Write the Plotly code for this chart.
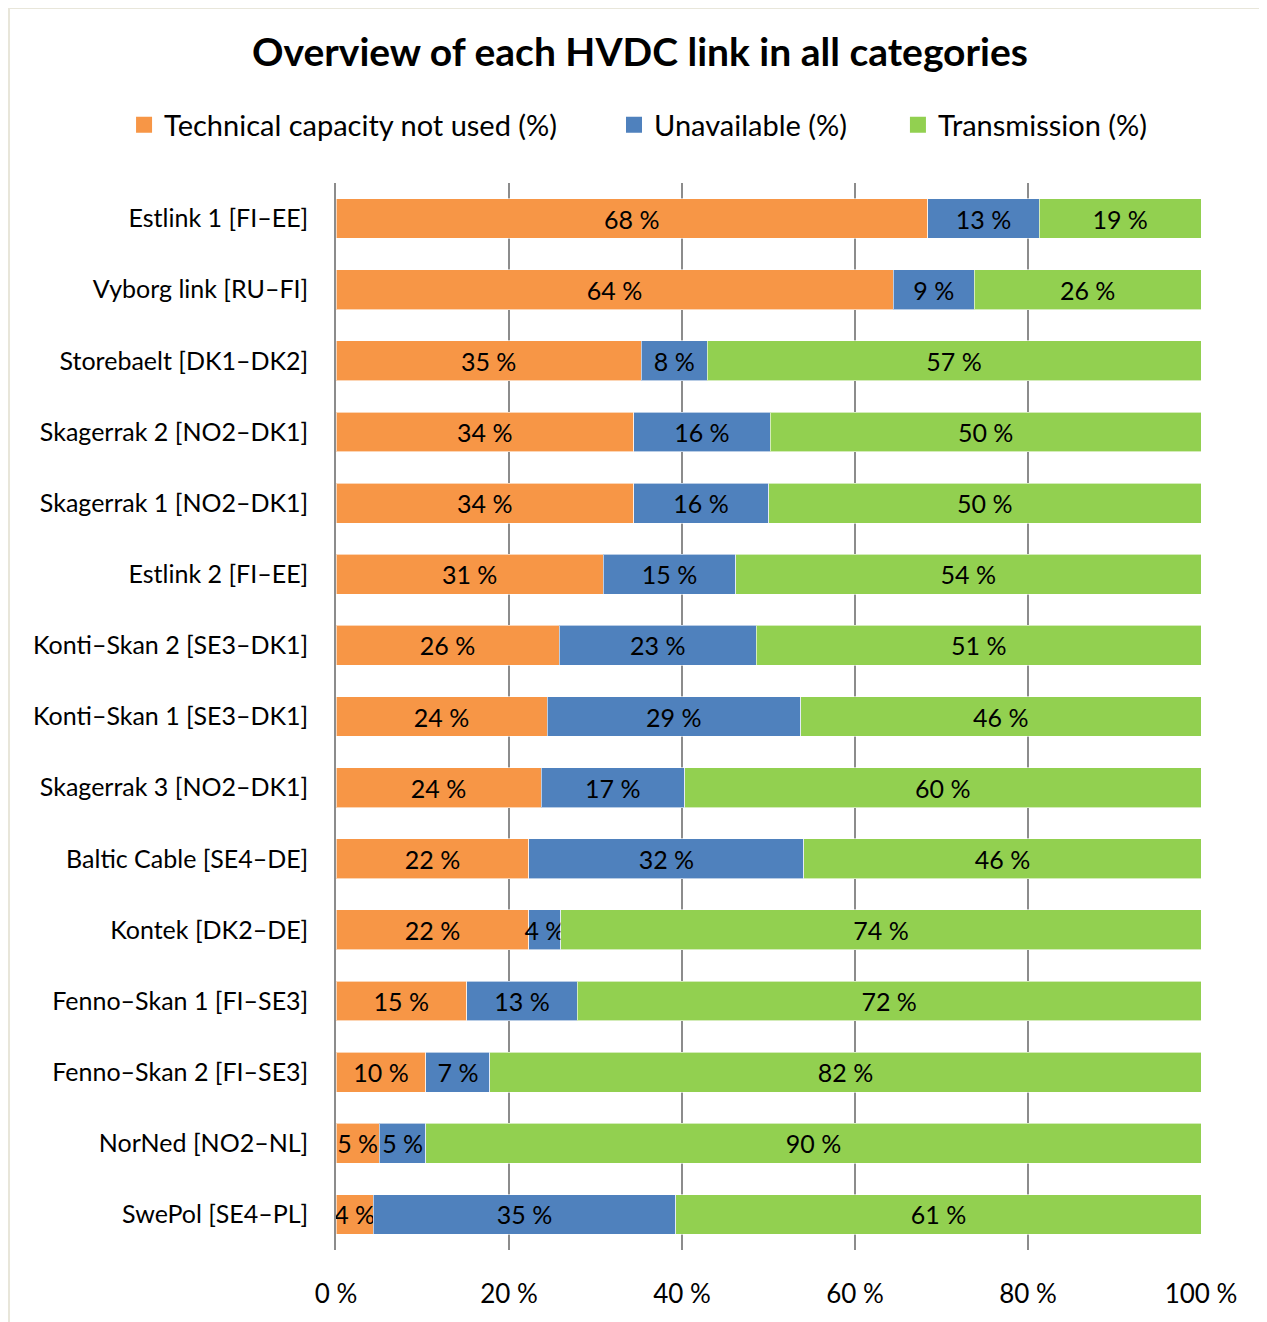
import plotly.graph_objects as go

links = ["Estlink 1 [FI–EE]", "Vyborg link [RU–FI]", "Storebaelt [DK1–DK2]",
         "Skagerrak 2 [NO2–DK1]", "Skagerrak 1 [NO2–DK1]", "Estlink 2 [FI–EE]",
         "Konti–Skan 2 [SE3–DK1]", "Konti–Skan 1 [SE3–DK1]", "Skagerrak 3 [NO2–DK1]",
         "Baltic Cable [SE4–DE]", "Kontek [DK2–DE]", "Fenno–Skan 1 [FI–SE3]",
         "Fenno–Skan 2 [FI–SE3]", "NorNed [NO2–NL]", "SwePol [SE4–PL]"]
not_used = [68.4, 64.4, 35.3, 34.4, 34.4, 30.9, 25.8, 24.4, 23.7, 22.3, 22.3, 15.1, 10.4, 5.0, 4.3]
unavailable = [12.9, 9.4, 7.6, 15.8, 15.6, 15.3, 22.8, 29.3, 16.6, 31.8, 3.7, 12.8, 7.4, 5.4, 35.0]
transmission = [18.7, 26.2, 57.1, 49.8, 50.0, 53.8, 51.4, 46.3, 59.7, 45.9, 74.0, 72.1, 82.2, 89.6, 60.7]
series_names = ["Technical capacity not used (%)", "Unavailable (%)", "Transmission (%)"]
colors = ["#F79646", "#4F81BD", "#92D050"]
tick_vals = [0, 20, 40, 60, 80, 100]
tick_text = ["0 %", "20 %", "40 %", "60 %", "80 %", "100 %"]

FONT = "Lato"
legend_ids = ["legend", "legend2", "legend3"]
legend_x = [0.0916, 0.4783, 0.7024]

fig = go.Figure()
for name, vals, c, lid in zip(series_names, [not_used, unavailable, transmission], colors, legend_ids):
    fig.add_trace(go.Bar(
        y=links, x=vals, name=name, orientation="h", showlegend=False,
        marker=dict(color=c, line=dict(color="rgba(255,255,255,0.6)", width=1)),
        texttemplate="%{x:.0f} %", textposition="inside", insidetextanchor="middle",
        textangle=0, textfont=dict(family=FONT, size=25, color="black"),
        cliponaxis=False,
    ))
    # legend-only entry with a larger square swatch
    fig.add_trace(go.Scatter(
        x=[None], y=[None], mode="markers", name=name, legend=lid, showlegend=True,
        marker=dict(symbol="square", size=19, color=c), hoverinfo="skip",
    ))

legend_common = dict(orientation="h", xref="container", yref="container", xanchor="left",
                     y=0.9115, yanchor="middle", font=dict(family=FONT, size=29),
                     bgcolor="rgba(0,0,0,0)", itemwidth=30)
fig.update_layout(
    barmode="stack", bargap=0.44,
    width=1267, height=1322,
    margin=dict(l=328, r=74, t=175, b=80),
    paper_bgcolor="white", plot_bgcolor="white",
    font=dict(family=FONT, size=25, color="black"),
    uniformtext=dict(minsize=25, mode="show"),
    title=dict(text="<b>Overview of each HVDC link in all categories</b>",
               x=0.4988, xanchor="center", y=0.9667, yanchor="middle",
               font=dict(family=FONT, size=39, color="black")),
    legend=dict(x=legend_x[0], **legend_common),
    legend2=dict(x=legend_x[1], **legend_common),
    legend3=dict(x=legend_x[2], **legend_common),
)
fig.update_xaxes(range=[0, 100.0001], tickvals=tick_vals, ticktext=tick_text,
                 showgrid=True, gridcolor="#8C8C8C", gridwidth=1.5,
                 zeroline=False, showline=False, ticks="", ticklabelstandoff=26,
                 tickfont=dict(family=FONT, size=26), automargin=False, fixedrange=True)
fig.update_yaxes(categoryorder="array", categoryarray=links[::-1],
                 showline=True, linecolor="#8C8C8C", linewidth=1.5,
                 ticks="", ticklabelstandoff=21, showgrid=False,
                 tickfont=dict(family=FONT, size=25), automargin=False)
fig.add_shape(type="rect", xref="paper", yref="paper",
              x0=-0.378, x1=1.2, y0=-0.2, y1=1.164,
              line=dict(color="#E8E6DA", width=2), fillcolor="rgba(0,0,0,0)", layer="below")
fig.write_html("out.html")
